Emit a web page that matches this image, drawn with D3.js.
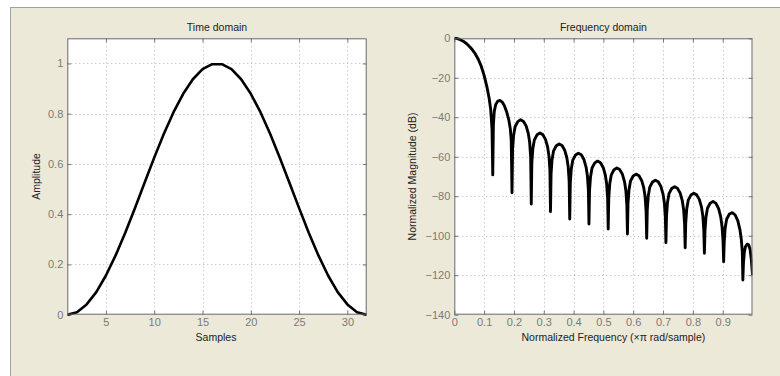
<!DOCTYPE html>
<html>
<head>
<meta charset="utf-8">
<script src="https://cdn.jsdelivr.net/npm/d3@7"></script>
<style>
  body { margin: 0; background: #ffffff; }
  svg { display: block; }
</style>
</head>
<body>
<svg id="fig" width="780" height="376"></svg>
<script>
// ---- Time-domain window samples ----
const samples = [1, 2, 3, 4, 5, 6, 7, 8, 9, 10, 11, 12, 13, 14, 15, 16,
                 17, 18, 19, 20, 21, 22, 23, 24, 25, 26, 27, 28, 29, 30, 31, 32];
const amplitude = [0, 0.010, 0.041, 0.090, 0.156, 0.236, 0.326, 0.424, 0.525, 0.625, 0.720, 0.806,
                   0.879, 0.937, 0.977, 0.997, 0.997, 0.977, 0.937, 0.879, 0.806, 0.720, 0.625,
                   0.525, 0.424, 0.326, 0.236, 0.156, 0.090, 0.041, 0.010, 0];

// ---- Frequency response (normalized frequency, x pi rad/sample) ----
const freq = [
  0, 0.005, 0.01, 0.02, 0.03, 0.04, 0.05, 0.06, 0.07, 0.08, 0.09, 0.10, 0.11, 0.117, 0.122, 0.1265,
  0.1290, 0.131, 0.134, 0.139, 0.146, 0.153, 0.160, 0.168, 0.176, 0.183, 0.188, 0.191,
  0.1935, 0.1954, 0.1987, 0.2038, 0.2129, 0.2225, 0.2322, 0.2412, 0.2483, 0.2528, 0.2561,
  0.2581, 0.2600, 0.2633, 0.2684, 0.2775, 0.2871, 0.2968, 0.3058, 0.3129, 0.3174, 0.3207,
  0.3226, 0.3245, 0.3278, 0.3329, 0.3420, 0.3516, 0.3613, 0.3703, 0.3774, 0.3819, 0.3852,
  0.3871, 0.3890, 0.3923, 0.3974, 0.4065, 0.4161, 0.4258, 0.4348, 0.4419, 0.4464, 0.4497,
  0.4516, 0.4535, 0.4568, 0.4619, 0.4710, 0.4806, 0.4903, 0.4993, 0.5064, 0.5109, 0.5142,
  0.5161, 0.5180, 0.5213, 0.5264, 0.5355, 0.5451, 0.5548, 0.5638, 0.5709, 0.5754, 0.5787,
  0.5806, 0.5825, 0.5858, 0.5909, 0.6000, 0.6096, 0.6193, 0.6283, 0.6354, 0.6399, 0.6432,
  0.6452, 0.6471, 0.6504, 0.6555, 0.6646, 0.6742, 0.6839, 0.6929, 0.7000, 0.7045, 0.7078,
  0.7097, 0.7116, 0.7149, 0.7200, 0.7291, 0.7387, 0.7484, 0.7574, 0.7645, 0.7690, 0.7723,
  0.7742, 0.7761, 0.7794, 0.7845, 0.7936, 0.8032, 0.8129, 0.8219, 0.8290, 0.8335, 0.8368,
  0.8387, 0.8406, 0.8439, 0.8490, 0.8581, 0.8677, 0.8774, 0.8864, 0.8935, 0.8980, 0.9013,
  0.9032, 0.9051, 0.9084, 0.9135, 0.9226, 0.9322, 0.9419, 0.9509, 0.9580, 0.9625, 0.9658,
  0.9677, 0.9696, 0.9725, 0.9765, 0.9820, 0.9870, 0.9920, 0.9960, 1.0
];
const magnitudeDb = [
  0, -0.05, -0.2, -0.7, -1.5, -2.6, -4.0, -5.7, -7.8, -10.5, -14, -18.8, -25, -30.5, -36, -46,
  -69.2, -44, -37, -33.5, -31.8, -31.5, -32.2, -34.2, -37.5, -41.5, -46, -52,
  -78.2, -56.3, -49.3, -44.8, -42.2, -41.3, -42.1, -44.5, -48.3, -52.8, -60.3,
  -83.9, -63, -56, -51.5, -48.9, -48, -48.8, -51.2, -55, -59.5, -67,
  -87.8, -68.5, -61.5, -57, -54.4, -53.5, -54.3, -56.7, -60.5, -65, -72.5,
  -91.5, -73.2, -66.2, -61.7, -59.1, -58.2, -59, -61.4, -65.2, -69.7, -77.2,
  -94.1, -77.2, -70.2, -65.7, -63.1, -62.2, -63, -65.4, -69.2, -73.7, -81.2,
  -96.6, -80.7, -73.7, -69.2, -66.6, -65.7, -66.5, -68.9, -72.7, -77.2, -84.7,
  -99.1, -83.8, -76.8, -72.3, -69.7, -68.8, -69.6, -72, -75.8, -80.3, -87.8,
  -101.3, -86.9, -79.9, -75.4, -72.8, -71.9, -72.7, -75.1, -78.9, -83.4, -90.9,
  -103.5, -90.2, -83.2, -78.7, -76.1, -75.2, -76, -78.4, -82.2, -86.7, -94.2,
  -106.1, -93.5, -86.5, -82, -79.4, -78.5, -79.3, -81.7, -85.5, -90, -97.5,
  -108.9, -97.6, -90.6, -86.1, -83.5, -82.6, -83.6, -86.3, -90.5, -95.5, -103,
  -113.2, -103.5, -96, -91.5, -89, -88.3, -89.5, -92.5, -97, -102, -108,
  -122.4, -114, -108.5, -105.5, -104.3, -104.6, -107, -112, -119.9
];

// ---- Tick values ----
const timeTicksX = [5, 10, 15, 20, 25, 30];
const timeTicksY = [0, 0.2, 0.4, 0.6, 0.8, 1];
const freqTicksX = [0, 0.1, 0.2, 0.3, 0.4, 0.5, 0.6, 0.7, 0.8, 0.9];
const freqTicksY = [0, -20, -40, -60, -80, -100, -120, -140];

const FONT = "'Liberation Sans', Arial, Helvetica, sans-serif";
const svg = d3.select("#fig").attr("font-family", FONT);

// Figure background with the panel frame
svg.append("rect").attr("x", 0).attr("y", 0).attr("width", 780).attr("height", 376).attr("fill", "#ffffff");
svg.append("rect").attr("x", 10.5).attr("y", 7.5).attr("width", 780).attr("height", 380)
  .attr("fill", "#ece9d8").attr("stroke", "#a0a0a0").attr("stroke-width", 1);

const fmt = d => String(d).replace("-", "\u2212");

function styleAxis(a) {
  a.select(".domain").remove();
  a.attr("font-family", FONT).attr("font-size", "11px");
  a.selectAll(".tick line").attr("stroke", "#777777");
  a.selectAll(".tick text").attr("fill", "#7a7a7a");
}

function panel(opts) {
  const { left, right, top, bottom, x, y, xTicks, yTicks, data, lineWidth,
          title, xLabel, xLabelShift, yLabel, yLabelX } = opts;
  const g = svg.append("g");

  g.append("rect").attr("x", left).attr("y", top)
    .attr("width", right - left).attr("height", bottom - top).attr("fill", "#ffffff");

  // dotted grid
  const grid = g.append("g").attr("stroke", "#b4b4b4").attr("stroke-width", 1)
    .attr("stroke-dasharray", "1,3");
  grid.selectAll(".gx").data(xTicks.filter(v => x(v) > left + 1 && x(v) < right - 1)).join("line")
    .attr("x1", d => Math.round(x(d)) + 0.5).attr("x2", d => Math.round(x(d)) + 0.5)
    .attr("y1", top).attr("y2", bottom);
  grid.selectAll(".gy").data(yTicks.filter(v => y(v) > top + 1 && y(v) < bottom - 1)).join("line")
    .attr("y1", d => Math.round(y(d)) + 0.5).attr("y2", d => Math.round(y(d)) + 0.5)
    .attr("x1", left).attr("x2", right);

  // axes with inward ticks on all four sides
  g.append("g").attr("transform", `translate(0,${bottom})`)
    .call(d3.axisBottom(x).tickValues(xTicks).tickFormat(fmt).tickSizeInner(-4).tickSizeOuter(0).tickPadding(4))
    .call(styleAxis);
  g.append("g").attr("transform", `translate(0,${top})`)
    .call(d3.axisTop(x).tickValues(xTicks).tickFormat("").tickSizeInner(-4).tickSizeOuter(0))
    .call(styleAxis);
  g.append("g").attr("transform", `translate(${left},0)`)
    .call(d3.axisLeft(y).tickValues(yTicks).tickFormat(fmt).tickSizeInner(-4).tickSizeOuter(0).tickPadding(4))
    .call(styleAxis);
  g.append("g").attr("transform", `translate(${right},0)`)
    .call(d3.axisRight(y).tickValues(yTicks).tickFormat("").tickSizeInner(-4).tickSizeOuter(0))
    .call(styleAxis);

  // data line
  const clipId = "clip" + Math.round(left);
  g.append("clipPath").attr("id", clipId).append("rect")
    .attr("x", left).attr("y", top - 2).attr("width", right - left).attr("height", bottom - top + 4);
  g.append("path").datum(data)
    .attr("clip-path", `url(#${clipId})`)
    .attr("fill", "none").attr("stroke", "#000").attr("stroke-width", lineWidth)
    .attr("stroke-linejoin", "round")
    .attr("d", d3.line().x(d => x(d[0])).y(d => y(d[1])));

  // box
  g.append("rect").attr("x", left + 0.5).attr("y", top + 0.5)
    .attr("width", right - left - 1).attr("height", bottom - top - 1)
    .attr("fill", "none").attr("stroke", "#666666").attr("stroke-width", 1);

  // text
  g.append("text").attr("x", (left + right) / 2).attr("y", top - 7)
    .attr("text-anchor", "middle").attr("font-size", "10.5px").attr("fill", "#222")
    .text(title);
  g.append("text").attr("x", (left + right) / 2 + xLabelShift).attr("y", bottom + 26.5)
    .attr("text-anchor", "middle").attr("font-size", "10.5px").attr("fill", "#222")
    .text(xLabel);
  g.append("text").attr("transform", `translate(${yLabelX},${(top + bottom) / 2}) rotate(-90)`)
    .attr("text-anchor", "middle").attr("font-size", "10.5px").attr("fill", "#222")
    .text(yLabel);
}

const TOP = 38.3, BOTTOM = 314.7;

const xTime = d3.scaleLinear().domain([1, 32]).range([67.3, 366.7]);
const yTime = d3.scaleLinear().domain([0, 1.1]).range([BOTTOM, TOP]);
panel({
  left: 67.3, right: 366.7, top: TOP, bottom: BOTTOM,
  x: xTime, y: yTime, xTicks: timeTicksX, yTicks: timeTicksY,
  data: samples.map((s, i) => [s, amplitude[i]]), lineWidth: 2.6,
  title: "Time domain", xLabel: "Samples", xLabelShift: -1,
  yLabel: "Amplitude", yLabelX: 40
});

const xFreq = d3.scaleLinear().domain([0, 1]).range([454.3, 752.5]);
const yFreq = d3.scaleLinear().domain([-140, 0]).range([BOTTOM, TOP]);
panel({
  left: 454.3, right: 752.5, top: TOP, bottom: BOTTOM,
  x: xFreq, y: yFreq, xTicks: freqTicksX, yTicks: freqTicksY,
  data: freq.map((f, i) => [f, magnitudeDb[i]]), lineWidth: 2.9,
  title: "Frequency domain", xLabel: "Normalized Frequency  (\u00d7\u03c0 rad/sample)", xLabelShift: 10,
  yLabel: "Normalized Magnitude (dB)", yLabelX: 416
});
</script>
</body>
</html>
